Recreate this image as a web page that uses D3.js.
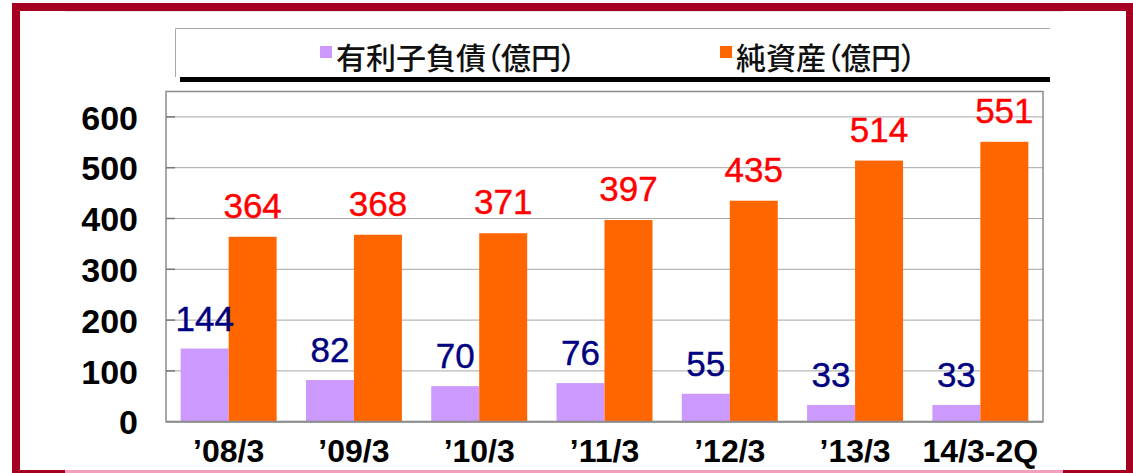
<!DOCTYPE html>
<html>
<head>
<meta charset="utf-8">
<script src="https://cdn.jsdelivr.net/npm/d3@7"></script>
<style>
  html, body { margin: 0; padding: 0; background: #fff; }
  svg { display: block; }
  .lbl { font-family: "Liberation Sans", Arial, sans-serif; }
  .legend-text { font-family: "Noto Sans CJK JP", sans-serif; font-feature-settings: "palt"; }
</style>
</head>
<body>
<div id="chart"></div>
<script>
// data
const categories = ["’08/3", "’09/3", "’10/3", "’11/3", "’12/3", "’13/3", "14/3-2Q"];
const debt = [144, 82, 70, 76, 55, 33, 33];
const netAssets = [364, 368, 371, 397, 435, 514, 551];
const yTicks = [0, 100, 200, 300, 400, 500, 600];
const seriesNames = ["有利子負債（億円）", "純資産（億円）"];

const W = 1133, H = 473;
const plot = { left: 166, right: 1043, top: 91.5, bottom: 421.7 };

const svg = d3.select('#chart').append('svg')
    .attr('width', W)
    .attr('height', H);

// red frame
svg.append('rect').attr('x', 12).attr('y', 3).attr('width', W).attr('height', H)
    .attr('fill', '#a50021');
svg.append('rect').attr('x', 20).attr('y', 11).attr('width', 1106).attr('height', 459)
    .attr('fill', '#fff');
svg.append('rect').attr('x', 65).attr('y', 470).attr('width', 998).attr('height', 3)
    .attr('fill', '#f4a0bc');
svg.append('line').attr('x1', 65).attr('x2', 1063).attr('y1', 11.5).attr('y2', 11.5)
    .attr('stroke', '#e6e6e6');

// legend box
svg.append('rect').attr('x', 180).attr('y', 77).attr('width', 870).attr('height', 5)
    .attr('fill', '#000');
svg.append('path')
    .attr('d', 'M175.5,77 L175.5,28.5 L1050,28.5')
    .attr('fill', 'none')
    .attr('stroke', '#aaa')
    .attr('stroke-width', 1);

const legendItems = [
    { name: seriesNames[0], color: '#cc99ff', x: 320 },
    { name: seriesNames[1], color: '#ff6600', x: 720 }
];
legendItems.forEach(d => {
    svg.append('rect').attr('x', d.x).attr('y', 46).attr('width', 12).attr('height', 12)
        .attr('fill', d.color);
    svg.append('text')
        .attr('class', 'legend-text')
        .attr('x', d.x + 16)
        .attr('y', 69)
        .attr('font-size', 30)
        .attr('font-weight', 500)
        .attr('fill', '#111')
        .text(d.name);
});

// scales
const x = d3.scaleBand()
    .domain(categories)
    .range([plot.left, plot.right])
    .paddingInner(0.234)
    .paddingOuter(0.117);
const x1 = d3.scaleBand()
    .domain(['debt', 'net'])
    .range([0, x.bandwidth()]);
const y = d3.scaleLinear()
    .domain([0, 650])
    .range([plot.bottom, plot.top]);

// gridlines
svg.append('g')
    .selectAll('line')
    .data(yTicks.filter(t => t > 0))
    .enter().append('line')
    .attr('x1', plot.left).attr('x2', plot.right)
    .attr('y1', d => y(d)).attr('y2', d => y(d))
    .attr('stroke', '#a6a6a6')
    .attr('stroke-width', 1);

// plot border
svg.append('rect')
    .attr('x', plot.left).attr('y', plot.top)
    .attr('width', plot.right - plot.left).attr('height', plot.bottom - plot.top)
    .attr('fill', 'none')
    .attr('stroke', '#8c8c8c')
    .attr('stroke-width', 1.5);

// bars
const rows = categories.map((c, i) => ({ cat: c, debt: debt[i], net: netAssets[i] }));
const groups = svg.append('g').selectAll('g')
    .data(rows)
    .enter().append('g')
    .attr('transform', d => `translate(${x(d.cat)},0)`);

groups.append('rect')
    .attr('x', x1('debt'))
    .attr('width', x1.bandwidth())
    .attr('y', d => y(d.debt))
    .attr('height', d => y(0) - y(d.debt))
    .attr('fill', '#cc99ff');
groups.append('rect')
    .attr('x', x1('net'))
    .attr('width', x1.bandwidth())
    .attr('y', d => y(d.net))
    .attr('height', d => y(0) - y(d.net))
    .attr('fill', '#ff6600');

// value labels
groups.append('text')
    .attr('class', 'lbl')
    .attr('x', x1('debt') + x1.bandwidth() / 2)
    .attr('y', d => y(d.debt) - 18)
    .attr('text-anchor', 'middle')
    .attr('font-size', 35)
    .attr('fill', '#000080')
    .attr('stroke', '#000080')
    .attr('stroke-width', 0.4)
    .text(d => d.debt);
groups.append('text')
    .attr('class', 'lbl')
    .attr('x', x1('net') + x1.bandwidth() / 2)
    .attr('y', d => y(d.net) - 19)
    .attr('text-anchor', 'middle')
    .attr('font-size', 35)
    .attr('fill', '#ff0000')
    .attr('stroke', '#ff0000')
    .attr('stroke-width', 0.4)
    .text(d => d.net);

// y axis
const yAxis = svg.append('g')
    .attr('transform', `translate(${plot.left},0)`)
    .call(d3.axisLeft(y).tickValues(yTicks).tickSize(0).tickPadding(28));
yAxis.select('.domain').remove();
yAxis.selectAll('text')
    .attr('class', 'lbl')
    .attr('font-size', 34)
    .attr('font-weight', 'bold')
    .attr('fill', '#000')
    .attr('dy', '0.36em');
// small inner ticks
svg.append('g').selectAll('line')
    .data(yTicks.filter(t => t > 0))
    .enter().append('line')
    .attr('x1', plot.left).attr('x2', plot.left + 9)
    .attr('y1', d => y(d)).attr('y2', d => y(d))
    .attr('stroke', '#777')
    .attr('stroke-width', 1.5);

// x axis
const xAxis = svg.append('g')
    .attr('transform', `translate(0,${plot.bottom})`)
    .call(d3.axisBottom(x).tickSize(0).tickPadding(18));
xAxis.select('.domain').remove();
xAxis.selectAll('text')
    .attr('class', 'lbl')
    .attr('font-size', 32)
    .attr('font-weight', 'bold')
    .attr('fill', '#000')
    .attr('dy', '0.71em');
svg.append('line')
    .attr('x1', plot.left).attr('x2', plot.right)
    .attr('y1', plot.bottom).attr('y2', plot.bottom)
    .attr('stroke', '#8c8c8c')
    .attr('stroke-width', 2);
</script>
</body>
</html>
